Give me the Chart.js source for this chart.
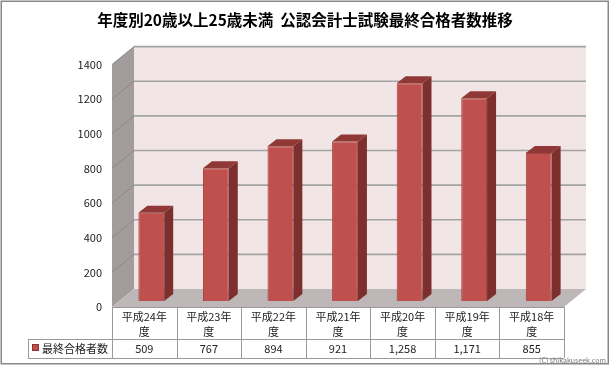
<!DOCTYPE html>
<html>
<head>
<meta charset="utf-8">
<script src="https://cdn.jsdelivr.net/npm/chart.js@4.4.1/dist/chart.umd.min.js"></script>
<style>
  html, body { margin: 0; padding: 0; background: #fff; }
  #chart { display: block; }
</style>
</head>
<body>
<canvas id="chart" width="610" height="366"></canvas>
<script>
// ---------------------------------------------------------------------------
// Data
// ---------------------------------------------------------------------------
const titleText = '年度別20歳以上25歳未満  公認会計士試験最終合格者数推移';
const categories = ['平成24年度', '平成23年度', '平成22年度', '平成21年度', '平成20年度', '平成19年度', '平成18年度'];
const seriesName = '最終合格者数';
const passers = [509, 767, 894, 921, 1258, 1171, 855];
const yMax = 1400;
const yStep = 200;
const creditText = '(C) shikakuseek.com';

// ---------------------------------------------------------------------------
// 3D look (Excel style column chart with data table)
// ---------------------------------------------------------------------------
const FONT = "'Noto Sans CJK JP', 'Noto Sans', sans-serif";
const FRONT = { dx: -7, dy: 6 };    // front plane relative to bar plane
const BACK = { dx: 15, dy: -12 };   // back wall relative to bar plane
const BAR_DEPTH = { dx: 9, dy: -7 };

function poly(ctx, pts, fill, stroke) {
    ctx.beginPath();
    ctx.moveTo(pts[0][0], pts[0][1]);
    for (let i = 1; i < pts.length; i++) ctx.lineTo(pts[i][0], pts[i][1]);
    ctx.closePath();
    if (fill) { ctx.fillStyle = fill; ctx.fill(); }
    if (stroke) { ctx.strokeStyle = stroke; ctx.lineWidth = 1; ctx.stroke(); }
}

const box3d = {
    id: 'box3d',
    beforeDatasetsDraw(chart) {
        const ctx = chart.ctx;
        const area = chart.chartArea;
        const y = chart.scales.y;
        const yTop = y.getPixelForValue(yMax);
        const yBase = y.getPixelForValue(0);

        const fl = area.left + FRONT.dx, fr = area.right + FRONT.dx;
        const bl = area.left + BACK.dx, br = area.right + BACK.dx;

        ctx.save();
        // back wall
        poly(ctx, [[bl, yTop + BACK.dy], [br, yTop + BACK.dy], [br, yBase + BACK.dy], [bl, yBase + BACK.dy]], '#f2e5e5');
        // side wall
        poly(ctx, [[fl, yTop + FRONT.dy], [bl, yTop + BACK.dy], [bl, yBase + BACK.dy], [fl, yBase + FRONT.dy]], '#a29c9c');

        // gridlines on back wall and side wall
        for (let v = yStep; v <= yMax; v += yStep) {
            const py = y.getPixelForValue(v);
            ctx.strokeStyle = '#a3a3a3';
            ctx.lineWidth = 1.6;
            ctx.beginPath();
            ctx.moveTo(bl, py + BACK.dy);
            ctx.lineTo(br, py + BACK.dy);
            ctx.stroke();
            ctx.strokeStyle = '#8d8888';
            ctx.lineWidth = 1;
            ctx.beginPath();
            ctx.moveTo(fl, py + FRONT.dy);
            ctx.lineTo(bl, py + BACK.dy);
            ctx.stroke();
        }

        // floor
        poly(ctx, [[fl, yBase + FRONT.dy], [bl, yBase + BACK.dy], [br, yBase + BACK.dy], [fr, yBase + FRONT.dy]], '#bdb7b7');
        ctx.restore();
    },
    afterDatasetsDraw(chart) {
        const ctx = chart.ctx;
        const meta = chart.getDatasetMeta(0);
        ctx.save();
        meta.data.forEach(bar => {
            const half = bar.width / 2;
            const l = bar.x - half, r = bar.x + half;
            const t = bar.y, b = bar.base;
            // side face
            poly(ctx, [[r, t], [r + BAR_DEPTH.dx, t + BAR_DEPTH.dy], [r + BAR_DEPTH.dx, b + BAR_DEPTH.dy], [r, b]], '#7c2f2d');
            // top face
            poly(ctx, [[l, t], [l + BAR_DEPTH.dx, t + BAR_DEPTH.dy], [r + BAR_DEPTH.dx, t + BAR_DEPTH.dy], [r, t]], '#8f3836');
        });
        ctx.restore();
    },
    afterDraw(chart) {
        const ctx = chart.ctx;
        const area = chart.chartArea;
        const x = chart.scales.x;
        const y = chart.scales.y;
        const yBase = y.getPixelForValue(0) + FRONT.dy;
        const colW = (area.right - area.left) / categories.length;
        const tableLeft = area.left + FRONT.dx;
        const rowMid = yBase + 32;
        const rowEnd = rowMid + 19;
        const legendLeft = 28;

        ctx.save();
        ctx.strokeStyle = '#9a9a9a';
        ctx.lineWidth = 1;

        // horizontal lines
        ctx.beginPath();
        ctx.moveTo(tableLeft, yBase + 0.5); ctx.lineTo(tableLeft + colW * categories.length, yBase + 0.5);
        ctx.moveTo(legendLeft, rowMid + 0.5); ctx.lineTo(tableLeft + colW * categories.length, rowMid + 0.5);
        ctx.moveTo(legendLeft, rowEnd + 0.5); ctx.lineTo(tableLeft + colW * categories.length, rowEnd + 0.5);
        ctx.moveTo(legendLeft + 0.5, rowMid); ctx.lineTo(legendLeft + 0.5, rowEnd);
        for (let i = 0; i <= categories.length; i++) {
            const cx = Math.round(tableLeft + colW * i) + 0.5;
            ctx.moveTo(cx, yBase); ctx.lineTo(cx, rowEnd);
        }
        ctx.stroke();

        // category and value texts
        ctx.fillStyle = '#222';
        ctx.textAlign = 'center';
        ctx.textBaseline = 'middle';
        ctx.font = '11px ' + FONT;
        categories.forEach((c, i) => {
            const cx = x.getPixelForValue(i) + FRONT.dx;
            ctx.fillText(c.slice(0, -1), cx, yBase + 10);
            ctx.fillText(c.slice(-1), cx, yBase + 25);
            ctx.fillText(passers[i].toLocaleString('en-US'), cx, rowMid + 10);
        });

        // legend key
        ctx.fillStyle = '#c0504d';
        ctx.fillRect(32, rowMid + 5, 7, 7);
        ctx.strokeStyle = '#8c3432';
        ctx.strokeRect(32.5, rowMid + 5.5, 6, 6);
        ctx.fillStyle = '#222';
        ctx.textAlign = 'left';
        ctx.fillText(seriesName, 42, rowMid + 10);

        // credit
        ctx.fillStyle = '#777';
        ctx.font = '7px ' + FONT;
        ctx.textAlign = 'right';
        ctx.fillText(creditText, 606, 360);

        // outer frame
        ctx.strokeStyle = '#888';
        ctx.lineWidth = 1.5;
        ctx.strokeRect(1.25, 1.25, 607, 362.5);
        ctx.restore();
    }
};

new Chart(document.getElementById('chart'), {
    type: 'bar',
    data: {
        labels: categories,
        datasets: [{
            label: seriesName,
            data: passers,
            backgroundColor: '#c0504d',
            borderColor: '#a4403d',
            borderWidth: 1,
            barPercentage: 0.4,
            categoryPercentage: 1
        }]
    },
    options: {
        responsive: false,
        animation: false,
        devicePixelRatio: 1,
        layout: { padding: { left: 0, right: 0, top: 0, bottom: 65 } },
        plugins: {
            legend: { display: false },
            tooltip: { enabled: false },
            title: {
                display: true,
                text: titleText,
                color: '#000',
                font: { family: FONT, size: 15.5, weight: 'bold', lineHeight: 1.2 },
                padding: { top: 11, bottom: 29 }
            }
        },
        scales: {
            x: { display: false },
            y: {
                position: 'left',
                min: 0,
                max: yMax,
                afterFit(scale) { scale.width = 119; },
                grid: { display: false, drawTicks: false },
                border: { display: false },
                ticks: {
                    stepSize: yStep,
                    padding: 17,
                    labelOffset: 6,
                    color: '#222',
                    font: { family: FONT, size: 11 },
                    callback: value => String(value)
                }
            },
            yRight: {
                position: 'right',
                min: 0,
                max: yMax,
                afterFit(scale) { scale.width = 39; },
                grid: { display: false, drawTicks: false },
                border: { display: false },
                ticks: { display: false }
            }
        }
    },
    plugins: [box3d]
});
</script>
</body>
</html>
